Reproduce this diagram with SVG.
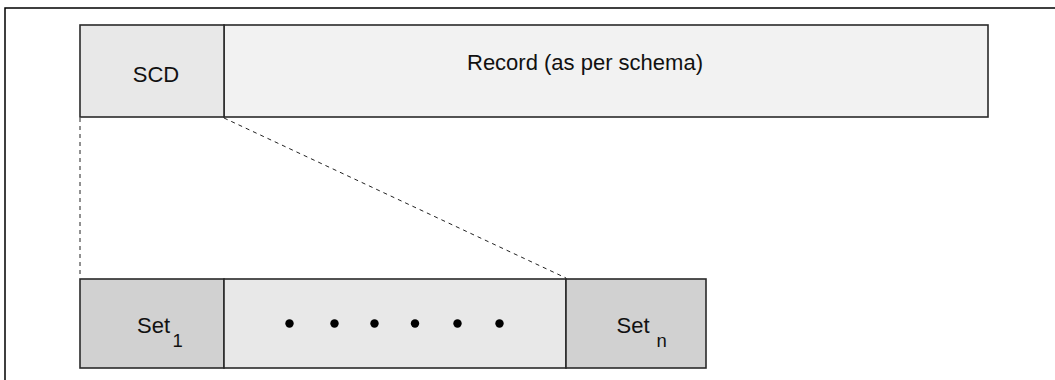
<svg xmlns="http://www.w3.org/2000/svg" width="1055" height="380" viewBox="0 0 1055 380">
<style>
.box{stroke:#2a2a2a;stroke-width:1.6}
.t{font-family:"Liberation Sans",Arial,sans-serif;font-size:22px;fill:#111}
.sub{font-size:18.5px}
.dash{stroke:#222;stroke-width:1;stroke-dasharray:4 4;fill:none}
</style>
<rect width="1055" height="380" fill="#fff"/>
<path d="M5,385 V8 H1060" fill="none" stroke="#000" stroke-width="1.5"/>
<g id="connectors">
<line class="dash" x1="80" y1="118" x2="80" y2="278"/>
<line class="dash" x1="224" y1="118" x2="566" y2="278"/>
</g>
<g id="record">
<rect class="box" x="224" y="25" width="764" height="92" fill="#f2f2f2"/>
<text class="t" x="585" y="70" text-anchor="middle">Record (as per schema)</text>
</g>
<g id="scd">
<rect class="box" x="80" y="25" width="144" height="92" fill="#e8e8e8"/>
<text class="t" x="156" y="81.5" text-anchor="middle">SCD</text>
</g>
<g id="set1">
<rect class="box" x="80" y="279" width="144" height="89" fill="#d1d1d1"/>
<text class="t" x="137" y="332.5">Set<tspan class="sub" dx="2.5" dy="14">1</tspan></text>
</g>
<g id="dots">
<rect class="box" x="224" y="279" width="342" height="89" fill="#e8e8e8"/>
<g fill="#000">
<circle cx="289.5" cy="323.5" r="4.2"/>
<circle cx="334.5" cy="323.5" r="4.2"/>
<circle cx="374.5" cy="323.5" r="4.2"/>
<circle cx="415" cy="323.5" r="4.2"/>
<circle cx="457.5" cy="323.5" r="4.2"/>
<circle cx="499.5" cy="323.5" r="4.2"/>
</g>
</g>
<g id="setn">
<rect class="box" x="566" y="279" width="140" height="89" fill="#d1d1d1"/>
<text class="t" x="616.5" y="332.5">Set<tspan class="sub" dx="7" dy="14">n</tspan></text>
</g>
</svg>
